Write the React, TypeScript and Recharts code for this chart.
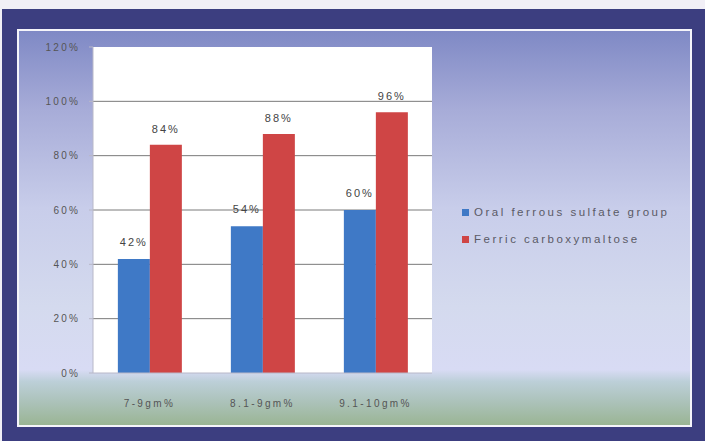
import { BarChart, Bar, XAxis, YAxis, CartesianGrid, LabelList } from 'recharts';

const categories = ['7-9gm%', '8.1-9gm%', '9.1-10gm%'];
const oralFerrous = [42, 54, 60];
const ferricCarboxy = [84, 88, 96];
const yTicks = [0, 20, 40, 60, 80, 100, 120];

const seriesInfo = [
    { key: 'oral', name: 'Oral ferrous sulfate  group', color: '#3f79c6' },
    { key: 'ferric', name: 'Ferric carboxymaltose', color: '#cf4545' },
];

const data = categories.map((c, i) => ({
    group: c,
    oral: oralFerrous[i],
    ferric: ferricCarboxy[i],
}));

const font = '"Liberation Sans", Arial, sans-serif';

export default function App() {
    return (
        <div style={{ position: 'absolute', left: 0, top: 0, width: 705, height: 441, background: '#f1eff6', fontFamily: font }}>
            {/* dark frame */}
            <div style={{ position: 'absolute', left: 2, top: 9, width: 703, height: 432, background: '#3c3e80' }} />
            {/* gradient panel */}
            <div
                style={{
                    position: 'absolute',
                    left: 17,
                    top: 29,
                    width: 671,
                    height: 394,
                    border: '2px solid #f4f4fa',
                    background: 'linear-gradient(to bottom, #7f89c5 0%, #a7acd8 20%, #c8cdea 45%, #d4daee 70%, #d8dbf4 86%, #bccfd8 89%, #a9c0b4 95%, #9ab594 100%)',
                }}
            />
            <div style={{ position: 'absolute', left: 0, top: 0 }}>
                <BarChart
                    width={705}
                    height={441}
                    data={data}
                    margin={{ top: 47, right: 273, bottom: 28, left: 40 }}
                    barCategoryGap="22%"
                    barGap={0}
                >
                    <CartesianGrid vertical={false} fill="#ffffff" stroke="#7a7a7a" horizontalValues={[20, 40, 60, 80, 100]} />
                    <XAxis
                        dataKey="group"
                        height={40}
                        interval={0}
                        axisLine={{ stroke: '#b8b8c8' }}
                        tickLine={false}
                        tick={{ fill: '#555', fontSize: 10, fontFamily: font, letterSpacing: 2.4 }}
                        tickMargin={21}
                    />
                    <YAxis
                        width={53}
                        domain={[0, 120]}
                        ticks={yTicks}
                        tickFormatter={(v: number) => `${v}%`}
                        axisLine={{ stroke: '#b8b8c8' }}
                        tickLine={{ stroke: '#b8b8c8' }}
                        tickSize={4}
                        tickMargin={9}
                        tick={{ fill: '#555', fontSize: 10, fontFamily: font, letterSpacing: 2.2 }}
                        interval={0}
                    />
                    {seriesInfo.map((s) => (
                        <Bar key={s.key} dataKey={s.key} name={s.name} fill={s.color} isAnimationActive={false}>
                            <LabelList
                                dataKey={s.key}
                                position="top"
                                offset={s.key === 'oral' ? 13 : 12}
                                formatter={(v: number) => `${v}%`}
                                style={{ fill: '#444', fontSize: 11, fontFamily: font, letterSpacing: 2 }}
                            />
                        </Bar>
                    ))}
                </BarChart>
            </div>
            {/* legend */}
            <div style={{ position: 'absolute', left: 462, top: 199, fontSize: 11.5, letterSpacing: 2.5, color: '#5a5a66', lineHeight: '27px' }}>
                {seriesInfo.map((s) => (
                    <div key={s.key} style={{ display: 'flex', alignItems: 'center' }}>
                        <span style={{ display: 'inline-block', width: 7, height: 7, background: s.color, marginRight: 5 }} />
                        {s.name}
                    </div>
                ))}
            </div>
        </div>
    );
}
